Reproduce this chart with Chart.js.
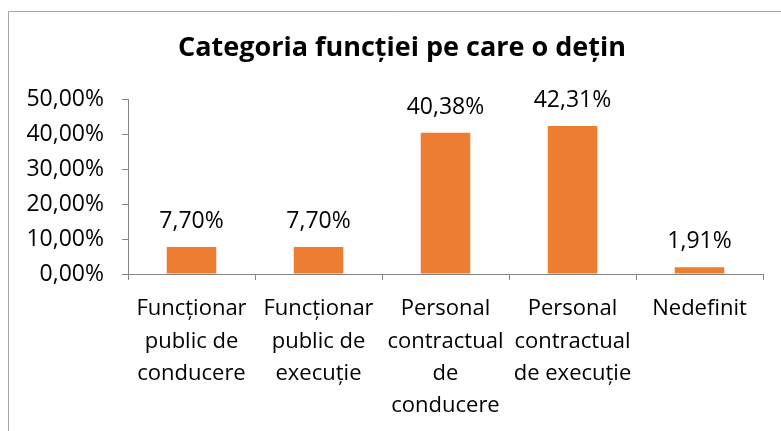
<!DOCTYPE html>
<html>
<head>
<meta charset="utf-8">
<script src="https://cdn.jsdelivr.net/npm/chart.js@4/dist/chart.umd.min.js"></script>
<style>
  html, body { margin: 0; padding: 0; background: #ffffff; }
  #wrap { width: 781px; height: 431px; position: relative; }
</style>
</head>
<body>
<div id="wrap"><canvas id="c" width="781" height="431"></canvas></div>
<script>
const chartTitle = 'Categoria funcției pe care o dețin';
const categories = [
  ['Funcționar', 'public de', 'conducere'],
  ['Funcționar', 'public de', 'execuție'],
  ['Personal', 'contractual', 'de', 'conducere'],
  ['Personal', 'contractual', 'de execuție'],
  ['Nedefinit']
];
const values = [7.70, 7.70, 40.38, 42.31, 1.91];
const yTickLabels = ['0,00%', '10,00%', '20,00%', '30,00%', '40,00%', '50,00%'];

const FONT = "'Open Sans', 'Liberation Sans', sans-serif";
const fmt = v => v.toFixed(2).replace('.', ',') + '%';

const framePlugin = {
  id: 'frame',
  beforeDraw(chart) {
    const ctx = chart.ctx;
    ctx.save();
    ctx.fillStyle = '#ffffff';
    ctx.fillRect(0, 0, chart.width, chart.height);
    ctx.strokeStyle = '#a6a6a6';
    ctx.lineWidth = 1;
    ctx.beginPath();
    ctx.moveTo(8.5, chart.height);
    ctx.lineTo(8.5, 11.5);
    ctx.lineTo(chart.width, 11.5);
    ctx.stroke();
    ctx.fillStyle = '#000000';
    ctx.font = "bold 27px " + FONT;
    ctx.textAlign = 'center';
    ctx.textBaseline = 'middle';
    ctx.fillText(chartTitle, 402, 48);
    ctx.restore();
  }
};

const labelPlugin = {
  id: 'barLabels',
  afterDatasetsDraw(chart) {
    const ctx = chart.ctx;
    const meta = chart.getDatasetMeta(0);
    ctx.save();
    ctx.fillStyle = '#000000';
    ctx.font = "23px " + FONT;
    ctx.textAlign = 'center';
    ctx.textBaseline = 'alphabetic';
    meta.data.forEach((bar, i) => {
      ctx.fillText(fmt(values[i]), bar.x, bar.y - 19);
    });
    ctx.restore();
  }
};

new Chart(document.getElementById('c'), {
  type: 'bar',
  data: {
    labels: categories,
    datasets: [{
      data: values,
      backgroundColor: '#ED7D31',
      borderWidth: 0,
      barPercentage: 0.39,
      categoryPercentage: 1.0
    }]
  },
  options: {
    responsive: false,
    animation: false,
    devicePixelRatio: 1,
    layout: { padding: { top: 99, right: 18, left: 0, bottom: 0 } },
    plugins: {
      legend: { display: false },
      title: { display: false },
      tooltip: { enabled: false }
    },
    scales: {
      x: {
        offset: true,
        afterFit(s) { s.height = 157; },
        grid: {
          offset: true,
          drawOnChartArea: false,
          drawTicks: true,
          tickLength: 6,
          color: '#868686'
        },
        border: { display: true, color: '#868686', width: 1 },
        ticks: {
          color: '#000000',
          font: { family: FONT, size: 22, lineHeight: 1.47 },
          padding: 13,
          maxRotation: 0,
          minRotation: 0,
          autoSkip: false
        }
      },
      y: {
        min: 0,
        max: 50,
        afterFit(s) { s.width = 128; },
        grid: {
          drawOnChartArea: false,
          drawTicks: true,
          tickLength: 6,
          color: '#868686'
        },
        border: { display: true, color: '#868686', width: 1 },
        ticks: {
          stepSize: 10,
          color: '#000000',
          font: { family: FONT, size: 23 },
          padding: 18,
          callback: (v, i) => yTickLabels[i]
        }
      }
    }
  },
  plugins: [framePlugin, labelPlugin]
});
</script>
</body>
</html>
